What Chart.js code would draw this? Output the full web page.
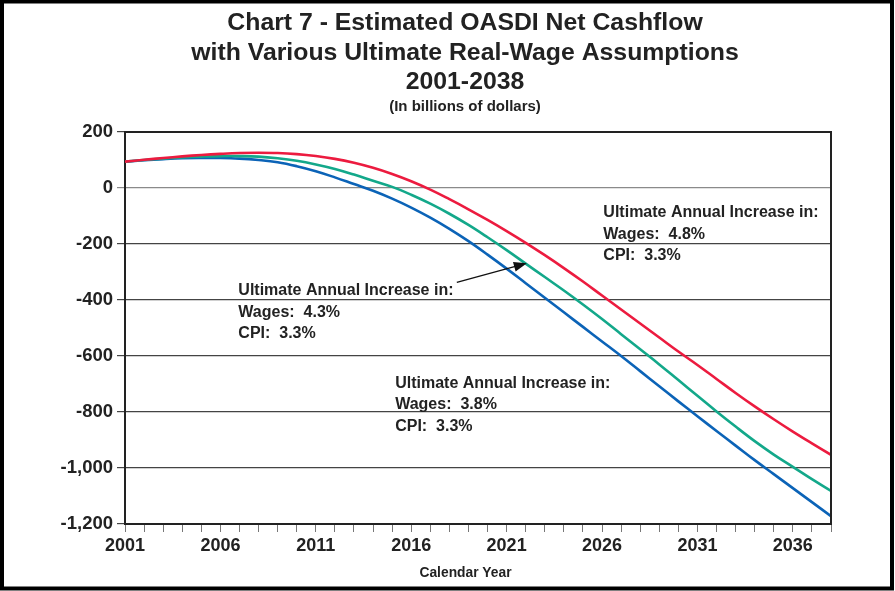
<!DOCTYPE html>
<html>
<head>
<meta charset="utf-8">
<script src="https://cdn.jsdelivr.net/npm/chart.js@4.4.1/dist/chart.umd.min.js"></script>
<style>
  body { margin: 0; background: #fff; }
  canvas { display: block; }
</style>
</head>
<body>
<canvas id="cashflowChart" width="895" height="591"></canvas>
<script>
// Years on the x axis
const years = [];
for (let y = 2001; y <= 2038; y++) years.push(y);

// Net cashflow, billions of dollars
const wages48 = [94, 101, 107, 113, 118, 122, 125, 126, 125, 121,
                 114, 104, 90, 72, 50, 24, -6, -40, -76, -114,
                 -154, -196, -240, -286, -334, -384, -434, -484, -534, -584,
                 -632, -682, -732, -780, -826, -870, -912, -953];
const wages43 = [94, 100, 105, 109, 112, 114, 114, 112, 106, 97,
                 84, 68, 48, 26, 4, -24, -56, -92, -132, -176,
                 -222, -270, -318, -366, -416, -468, -522, -576, -630, -686,
                 -742, -798, -852, -904, -952, -996, -1040, -1082];
const wages38 = [94, 99, 103, 106, 107, 107, 105, 100, 92, 78,
                 60, 38, 14, -10, -38, -70, -106, -146, -190, -238,
                 -288, -340, -392, -444, -496, -548, -600, -654, -708, -762,
                 -815, -868, -920, -972, -1022, -1072, -1122, -1172];

const yTicks = [200, 0, -200, -400, -600, -800, -1000, -1200];

// Callout text, anchored in data units (year, value)
const notes = [
  { x: 2026.07, y: -89, lines: ['Ultimate Annual Increase in:', 'Wages:  4.8%', 'CPI:  3.3%'] },
  { x: 2006.94, y: -367, lines: ['Ultimate Annual Increase in:', 'Wages:  4.3%', 'CPI:  3.3%'] },
  { x: 2015.16, y: -698, lines: ['Ultimate Annual Increase in:', 'Wages:  3.8%', 'CPI:  3.3%'] }
];
const arrow = { from: [2018.39, -337], to: [2022.06, -269] };

const FONT = '"Liberation Sans", Arial, Helvetica, sans-serif';

function toPoints(values) {
  return values.map((v, i) => ({ x: years[i], y: v }));
}

const decorations = {
  id: 'decorations',
  beforeDraw(chart) {
    const ctx = chart.ctx;
    ctx.save();
    ctx.fillStyle = '#fff';
    ctx.fillRect(0, 0, chart.width, chart.height);
    ctx.restore();
  },
  afterDraw(chart) {
    const ctx = chart.ctx;
    const xs = chart.scales.x, ys = chart.scales.y;
    const area = chart.chartArea;
    ctx.save();

    // plot frame, top and right
    ctx.strokeStyle = '#222';
    ctx.lineWidth = 2;
    ctx.beginPath();
    ctx.moveTo(area.left, area.top);
    ctx.lineTo(area.right, area.top);
    ctx.lineTo(area.right, area.bottom);
    ctx.stroke();

    // outer border
    ctx.strokeStyle = '#000';
    ctx.lineWidth = 4;
    ctx.strokeRect(2, 1.5, chart.width - 5, chart.height - 4);

    // titles
    ctx.fillStyle = '#222';
    ctx.textAlign = 'center';
    ctx.textBaseline = 'middle';
    ctx.font = 'bold 24.8px ' + FONT;
    ctx.fillText('Chart 7 - Estimated OASDI Net Cashflow', 465, 23);
    ctx.fillText('with Various Ultimate Real-Wage Assumptions', 465, 53);
    ctx.fillText('2001-2038', 465, 82);
    ctx.font = 'bold 15px ' + FONT;
    ctx.fillText('(In billions of dollars)', 465, 107);
    ctx.font = 'bold 13.8px ' + FONT;
    ctx.fillText('Calendar Year', 465.5, 573);

    // callouts
    ctx.textAlign = 'left';
    ctx.font = 'bold 16px ' + FONT;
    notes.forEach(n => {
      const px = xs.getPixelForValue(n.x);
      const py = ys.getPixelForValue(n.y);
      n.lines.forEach((t, i) => ctx.fillText(t, px, py + i * 21.5));
    });

    // arrow pointing to the 4.3% line
    const x1 = xs.getPixelForValue(arrow.from[0]), y1 = ys.getPixelForValue(arrow.from[1]);
    const x2 = xs.getPixelForValue(arrow.to[0]), y2 = ys.getPixelForValue(arrow.to[1]);
    const ang = Math.atan2(y2 - y1, x2 - x1);
    ctx.strokeStyle = '#111';
    ctx.fillStyle = '#111';
    ctx.lineWidth = 1.3;
    ctx.beginPath();
    ctx.moveTo(x1, y1);
    ctx.lineTo(x2 - 10 * Math.cos(ang), y2 - 10 * Math.sin(ang));
    ctx.stroke();
    ctx.beginPath();
    ctx.moveTo(x2, y2);
    ctx.lineTo(x2 - 13 * Math.cos(ang) + 5 * Math.sin(ang), y2 - 13 * Math.sin(ang) - 5 * Math.cos(ang));
    ctx.lineTo(x2 - 13 * Math.cos(ang) - 5 * Math.sin(ang), y2 - 13 * Math.sin(ang) + 5 * Math.cos(ang));
    ctx.closePath();
    ctx.fill();

    ctx.restore();
  }
};

function lineSet(label, values, color) {
  return {
    label: label,
    data: toPoints(values),
    borderColor: color,
    borderWidth: 2.6,
    pointRadius: 0,
    tension: 0.4,
    fill: false
  };
}

new Chart(document.getElementById('cashflowChart'), {
  type: 'line',
  data: {
    datasets: [
      lineSet('Wages 4.8%', wages48, '#EC1B3F'),
      lineSet('Wages 4.3%', wages43, '#13A88A'),
      lineSet('Wages 3.8%', wages38, '#0B63B7')
    ]
  },
  options: {
    responsive: false,
    animation: false,
    layout: { padding: { top: 132, right: 64, left: 0, bottom: 0 } },
    plugins: {
      legend: { display: false },
      tooltip: { enabled: false },
      title: { display: false }
    },
    scales: {
      x: {
        type: 'linear',
        min: 2001,
        max: 2038,
        afterFit(scale) { scale.height = 67; },
        border: { color: '#222', width: 2 },
        grid: { drawOnChartArea: false, drawTicks: true, tickLength: 8, color: '#777' },
        ticks: {
          stepSize: 1,
          autoSkip: false,
          maxRotation: 0,
          padding: 3,
          color: '#222',
          font: { family: FONT, size: 18, weight: 'bold' },
          callback: v => ((v - 2001) % 5 === 0 ? String(v) : '')
        }
      },
      y: {
        min: -1200,
        max: 200,
        afterFit(scale) { scale.width = 125; },
        afterBuildTicks(scale) { scale.ticks = yTicks.map(v => ({ value: v })); },
        border: { color: '#222', width: 2 },
        grid: {
          tickLength: 8,
          color: c => (c.tick && c.tick.value === 0 ? '#8a8a8a' : '#444'),
          lineWidth: 1.2
        },
        ticks: {
          padding: 4,
          color: '#222',
          font: { family: FONT, size: 18.5, weight: 'bold' },
          callback: v => v.toLocaleString('en-US')
        }
      }
    }
  },
  plugins: [decorations]
});
</script>
</body>
</html>
